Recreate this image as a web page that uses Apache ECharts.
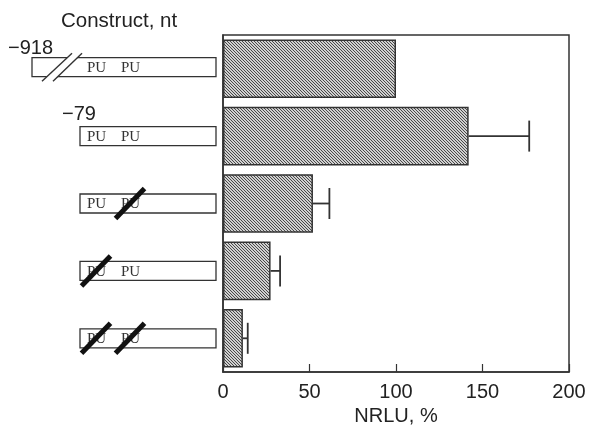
<!DOCTYPE html>
<html>
<head>
<meta charset="utf-8">
<script src="https://cdn.jsdelivr.net/npm/echarts@6/dist/echarts.min.js"></script>
<style>html,body{margin:0;padding:0;background:#fff;}#c{width:589px;height:436px;}</style>
</head>
<body>
<div id="c"></div>
<script>
// ---- data ----
var categories = ['-918', '-79', '-79 PU2 mut', '-79 PU1 mut', '-79 PU1+PU2 mut'];
var nrlu = [100, 142, 52, 27.5, 11.5];
var nrluErr = [null, 35, 9.5, 5.5, 2.8];
var startLabels = ['\u2212918', '\u221279', '', '', ''];
var longConstruct = [true, false, false, false, false];
var pu1Mutated = [false, false, false, true, true];
var pu2Mutated = [false, false, true, false, true];
var xTicks = [0, 50, 100, 150, 200];

// hatch pattern
var pc = document.createElement('canvas');
pc.width = 6; pc.height = 6;
var ctx = pc.getContext('2d');
ctx.fillStyle = '#d0d0d0';
ctx.fillRect(0, 0, 6, 6);
ctx.fillStyle = '#484848';
for (var x = 0; x < 6; x++) for (var y = 0; y < 6; y++) {
  if (((x - y) % 3 + 3) % 3 === 0) ctx.fillRect(x, y, 1, 1);
}

var chart = echarts.init(document.getElementById('c'));
var ink = '#222';

var barData = nrlu.map(function (v) { return v; });
var errData = nrlu.map(function (v, i) { return [v, i, nrluErr[i]]; });
var conData = categories.map(function (c, i) { return [0, i]; });

chart.setOption({
  animation: false,
  backgroundColor: '#fff',
  title: {
    text: 'Construct, nt', left: 56, top: 6,
    textStyle: { fontFamily: 'Liberation Sans', fontSize: 20.5, fontWeight: 'normal', color: ink }
  },
  grid: { left: 223, right: 20, top: 35, bottom: 64, show: true, borderColor: '#333', borderWidth: 1.5, backgroundColor: 'transparent' },
  xAxis: {
    type: 'value', min: xTicks[0], max: xTicks[xTicks.length - 1], interval: 50,
    name: 'NRLU, %', nameLocation: 'middle', nameGap: 31,
    nameTextStyle: { fontFamily: 'Liberation Sans', fontSize: 20, color: ink },
    axisLine: { show: true, lineStyle: { color: '#333', width: 1.5 } },
    axisTick: { show: true, inside: true, length: 8, lineStyle: { color: '#333', width: 1.2 } },
    axisLabel: { fontFamily: 'Liberation Sans', fontSize: 20, color: ink, margin: 10 },
    splitLine: { show: false }
  },
  yAxis: {
    type: 'category', data: categories, inverse: true,
    axisLine: { show: true, lineStyle: { color: '#333', width: 1.5 } },
    axisTick: { show: false }, axisLabel: { show: false }, splitLine: { show: false }
  },
  series: [
    {
      type: 'bar', data: barData, barCategoryGap: '13%',
      itemStyle: { color: { image: pc, repeat: 'repeat' }, borderColor: '#333', borderWidth: 1.5 }
    },
    {
      type: 'custom', data: errData, encode: { x: 0, y: 1 }, z: 5,
      renderItem: function (params, api) {
        var e = api.value(2);
        if (e == null || isNaN(e)) return null;
        var v = api.value(0), i = api.value(1);
        var a = api.coord([v, i]);
        var b = api.coord([v + e, i]);
        var h = api.size([0, 1])[1] * 0.23;
        var st = { stroke: '#333', lineWidth: 1.8 };
        return { type: 'group', children: [
          { type: 'line', shape: { x1: a[0], y1: a[1], x2: b[0], y2: b[1] }, style: st },
          { type: 'line', shape: { x1: b[0], y1: b[1] - h, x2: b[0], y2: b[1] + h }, style: st }
        ] };
      }
    },
    {
      type: 'custom', data: conData, encode: { x: 0, y: 1 }, clip: false, silent: true,
      renderItem: function (params, api) {
        var i = api.value(1);
        var p = api.coord([0, i]);
        var gx = p[0], cy = p[1] - (longConstruct[i] ? 1.5 : 0);
        var ch = [];
        var left = longConstruct[i] ? gx - 191 : gx - 143;
        ch.push({ type: 'rect', shape: { x: left, y: cy - 9.5, width: gx - 7 - left, height: 19 },
          style: { fill: '#fff', stroke: '#333', lineWidth: 1.3 } });
        if (longConstruct[i]) {
          var l1 = [gx - 181, cy + 14, gx - 151, cy - 14];
          var l2 = [gx - 170, cy + 14, gx - 141, cy - 14];
          ch.push({ type: 'polygon', shape: { points: [[l1[0], l1[1]], [l1[2], l1[3]], [l2[2], l2[3]], [l2[0], l2[1]]] },
            style: { fill: '#fff' } });
          ch.push({ type: 'line', shape: { x1: l1[0], y1: l1[1], x2: l1[2], y2: l1[3] }, style: { stroke: '#333', lineWidth: 1.4 } });
          ch.push({ type: 'line', shape: { x1: l2[0], y1: l2[1], x2: l2[2], y2: l2[3] }, style: { stroke: '#333', lineWidth: 1.4 } });
        }
        var puX = [gx - 136, gx - 102];
        puX.forEach(function (x) {
          ch.push({ type: 'text', style: { text: 'PU', x: x, y: cy + 1, textVerticalAlign: 'middle', textAlign: 'left',
            font: '15px "Liberation Serif"', fill: '#333' } });
        });
        var mut = [pu1Mutated[i], pu2Mutated[i]];
        mut.forEach(function (m, k) {
          if (!m) return;
          var cx = puX[k] + 9;
          ch.push({ type: 'line', shape: { x1: cx - 14.5, y1: cy + 15, x2: cx + 14.5, y2: cy - 15 },
            style: { stroke: '#111', lineWidth: 5 } });
        });
        if (startLabels[i]) {
          ch.push({ type: 'text', style: { text: startLabels[i], x: left - (longConstruct[i] ? 24 : 18), y: cy - (longConstruct[i] ? 19 : 22),
            textVerticalAlign: 'middle', textAlign: 'left', font: '20px "Liberation Sans"', fill: ink } });
        }
        return { type: 'group', children: ch };
      }
    }
  ]
});
</script>
</body>
</html>
